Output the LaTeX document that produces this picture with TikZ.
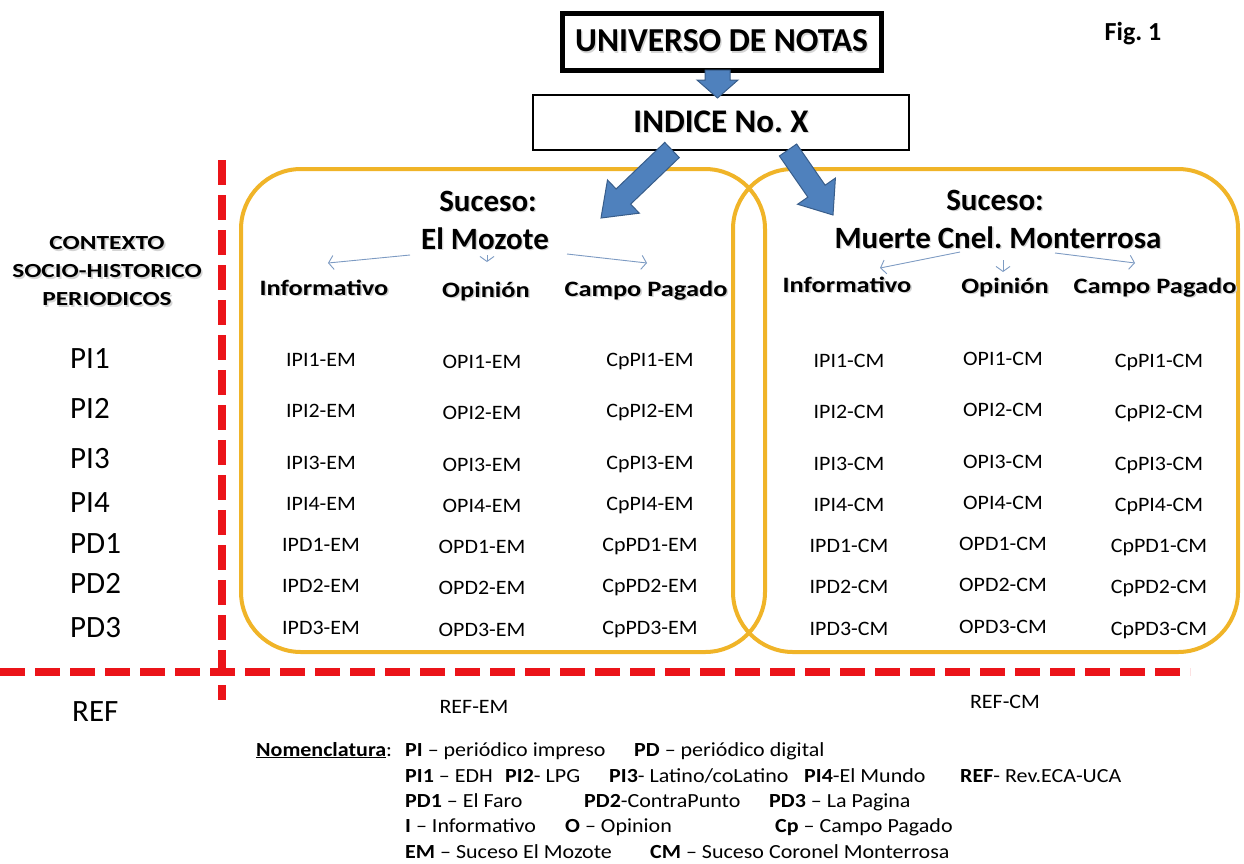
\documentclass[tikz,border=0pt]{standalone}
\usepackage{fontspec}
\setmainfont{Carlito}
\usetikzlibrary{calc,arrows.meta}
\frenchspacing
\definecolor{ybox}{RGB}{240,180,40}
\definecolor{redd}{RGB}{235,20,25}
\definecolor{ablue}{RGB}{79,129,189}
\definecolor{aedge}{RGB}{56,93,138}
\definecolor{thinc}{RGB}{125,155,195}
\newcommand{\shd}[1]{\leavevmode\rlap{\kern1.3pt\raisebox{-1.3pt}{\color{black!17}#1}}#1}
\newcommand{\hs}[2]{\scalebox{#1}[1]{#2}}
\tikzset{
 evbox/.style={draw=ybox, line width=4pt, rounded corners=60pt, inner sep=0pt},
 reddash/.style={draw=redd, line width=8pt, dash pattern=on 25pt off 10pt},
 blk/.style={fill=ablue, draw=aedge, line width=1pt, line join=miter},
 thinarr/.style={draw=thinc, line width=0.9pt, -{Straight Barb[length=5pt,width=14pt]}},
 ttl/.style={font=\bfseries\fontsize{31}{37}\selectfont, anchor=base, inner sep=0pt},
 colhead/.style={font=\bfseries\fontsize{22}{26}\selectfont, anchor=base, inner sep=0pt},
 cell/.style={font=\fontsize{20.5}{24}\selectfont, anchor=base, inner sep=0pt},
 rowlab/.style={font=\fontsize{31}{36}\selectfont, anchor=base west, inner sep=0pt},
 ctx/.style={font=\bfseries\fontsize{20}{28}\selectfont, align=center, inner sep=0pt},
 leg/.style={font=\fontsize{20}{24}\selectfont, anchor=base west, inner sep=0pt},
 topbox/.style={draw, font=\bfseries\fontsize{33.5}{40}\selectfont, inner sep=0pt},
}
\newcommand{\fatarrow}[5]{%
 \coordinate (#1#2h) at ($(#2)!#5!(#1)$);
 \path[blk] ($(#1)!#3!90:(#2)$) -- ($(#1#2h)!#3!90:(#2)$) -- ($(#1#2h)!#4!90:(#2)$) -- (#2)
   -- ($(#1#2h)!#4!-90:(#2)$) -- ($(#1#2h)!#3!-90:(#2)$) -- ($(#1)!#3!-90:(#2)$) -- cycle;}
\begin{document}
\begin{tikzpicture}[x=1pt,y=-1pt]
\useasboundingbox[fill=white] (0,0) rectangle (1244,863);

% yellow event boxes
\node[evbox, minimum width=524pt, minimum height=483pt] (boxEM) at (503,410.5) {};
\node[evbox, minimum width=505pt, minimum height=483pt] (boxCM) at (985.5,410.5) {};

% red dashed dividers
\coordinate (vtop) at (222,160);
\coordinate (vbot) at (222,700);
\coordinate (hl) at (0,672);
\coordinate (hr) at (1190,672);
\draw[reddash] (vtop) -- (vbot);
\draw[reddash] (hl) -- (hr);

% top boxes
\node[topbox, line width=5pt, minimum width=319pt, minimum height=57pt] (univ) at (721.5,41.5) {\shd{UNIVERSO DE NOTAS}};
\node[topbox, line width=2.5pt, minimum width=376pt, minimum height=55pt, font=\bfseries\fontsize{33}{40}\selectfont] (indice) at (721,122.5) {\shd{INDICE No. X}};
\node[font=\bfseries\fontsize{26}{30}\selectfont] (fig) at (1133,34) {Fig. 1};

% block arrows
\coordinate (d0) at (717.5,70);
\coordinate (d1) at (717.5,98);
\fatarrow{d0}{d1}{12.5pt}{20.5pt}{18pt}
\coordinate (l0) at (672,150);
\coordinate (l1) at (601,218);
\fatarrow{l0}{l1}{10.5pt}{23pt}{31pt}
\coordinate (r0) at (788,150);
\coordinate (r1) at (833,215);
\fatarrow{r0}{r1}{10.5pt}{23pt}{29pt}

% left context column
\node[ctx] (ctx) at (107,272) {\hs{1.27}{\shd{CONTEXTO}}\\\hs{1.27}{\shd{SOCIO-HISTORICO}}\\\hs{1.27}{\shd{PERIODICOS}}};
\node[rowlab] (rPI1) at (70,368) {PI1};
\node[rowlab] (rPI2) at (70,418) {PI2};
\node[rowlab] (rPI3) at (70,468) {PI3};
\node[rowlab] (rPI4) at (70,512) {PI4};
\node[rowlab] (rPD1) at (70,553) {PD1};
\node[rowlab] (rPD2) at (70,593) {PD2};
\node[rowlab] (rPD3) at (70,637) {PD3};
\node[rowlab] (rREF) at (72,721) {REF};

% El Mozote block
\node[ttl] (sucEM) at (488,211) {\shd{Suceso:}};
\node[ttl] (nameEM) at (485,249) {\shd{El Mozote}};
\node[colhead] (hIEM) at (324,295) {\hs{1.2}{\shd{Informativo}}};
\node[colhead] (hOEM) at (486,297) {\hs{1.2}{\shd{Opinión}}};
\node[colhead] (hCEM) at (646,296) {\hs{1.2}{\shd{Campo Pagado}}};
\coordinate (aEMl0) at (410,255); \coordinate (aEMl1) at (328,263);
\coordinate (aEMm0) at (487,255); \coordinate (aEMm1) at (487,262);
\coordinate (aEMr0) at (567,254); \coordinate (aEMr1) at (647,263);
\draw[thinarr] (aEMl0) -- (aEMl1);
\draw[thinarr] (aEMm0) -- (aEMm1);
\draw[thinarr] (aEMr0) -- (aEMr1);

% Monterrosa block
\node[ttl] (sucCM) at (995,210) {\shd{Suceso:}};
\node[ttl] (nameCM) at (998,248) {\shd{Muerte Cnel. Monterrosa}};
\node[colhead] (hICM) at (847,292) {\hs{1.2}{\shd{Informativo}}};
\node[colhead] (hOCM) at (1005,293) {\hs{1.2}{\shd{Opinión}}};
\node[colhead] (hCCM) at (1155,293) {\hs{1.2}{\shd{Campo Pagado}}};
\coordinate (aCMl0) at (960,252); \coordinate (aCMl1) at (880,268);
\coordinate (aCMm0) at (1003,260); \coordinate (aCMm1) at (1003,272);
\coordinate (aCMr0) at (1055,253); \coordinate (aCMr1) at (1135,263);
\draw[thinarr] (aCMl0) -- (aCMl1);
\draw[thinarr] (aCMm0) -- (aCMm1);
\draw[thinarr] (aCMr0) -- (aCMr1);

% cells
\foreach \r/\yy in {PI1/366.5, PI2/417.5, PI3/469.5, PI4/510.5, PD1/551.5, PD2/592.5, PD3/634.5}{
  \node[cell] (I\r EM) at (321,\yy) {\hs{1.07}{I\r-EM}};
  \node[cell] (O\r EM) at (482,\yy+2) {\hs{1.07}{O\r-EM}};
  \node[cell] (C\r EM) at (650,\yy) {\hs{1.07}{Cp\r-EM}};
  \node[cell] (I\r CM) at (849,\yy+1) {\hs{1.07}{I\r-CM}};
  \node[cell] (O\r CM) at (1003,\yy-1) {\hs{1.07}{O\r-CM}};
  \node[cell] (C\r CM) at (1159,\yy+1) {\hs{1.07}{Cp\r-CM}};
}
\node[cell] (refEM) at (474,713) {\hs{1.07}{REF-EM}};
\node[cell] (refCM) at (1005,708) {\hs{1.07}{REF-CM}};

% legend
\node[leg] (n0) at (256,756) {\hs{1.1}{\textbf{\underline{Nomenclatura}}:}};
\node[leg] (n1) at (405,756) {\hs{1.1}{\textbf{PI} – periódico impreso}};
\node[leg] (n2) at (634,756) {\hs{1.1}{\textbf{PD} – periódico digital}};
\node[leg] (n3) at (405,782) {\hs{1.1}{\textbf{PI1} – EDH}};
\node[leg] (n4) at (505,782) {\hs{1.1}{\textbf{PI2}- LPG}};
\node[leg] (n5) at (609,782) {\hs{1.1}{\textbf{PI3}- Latino/coLatino}};
\node[leg] (n6) at (804,782) {\hs{1.1}{\textbf{PI4}-El Mundo}};
\node[leg] (n7) at (960,782) {\hs{1.1}{\textbf{REF}- Rev.ECA-UCA}};
\node[leg] (n8) at (405,807) {\hs{1.1}{\textbf{PD1} – El Faro}};
\node[leg] (n9) at (584,807) {\hs{1.1}{\textbf{PD2}-ContraPunto}};
\node[leg] (n10) at (769,807) {\hs{1.1}{\textbf{PD3} – La Pagina}};
\node[leg] (n11) at (405,832) {\hs{1.1}{\textbf{I} – Informativo}};
\node[leg] (n12) at (565,832) {\hs{1.1}{\textbf{O} – Opinion}};
\node[leg] (n13) at (775,832) {\hs{1.1}{\textbf{Cp} – Campo Pagado}};
\node[leg] (n14) at (405,858) {\hs{1.1}{\textbf{EM} – Suceso El Mozote}};
\node[leg] (n15) at (650,858) {\hs{1.1}{\textbf{CM} – Suceso Coronel Monterrosa}};
\end{tikzpicture}
\end{document}
